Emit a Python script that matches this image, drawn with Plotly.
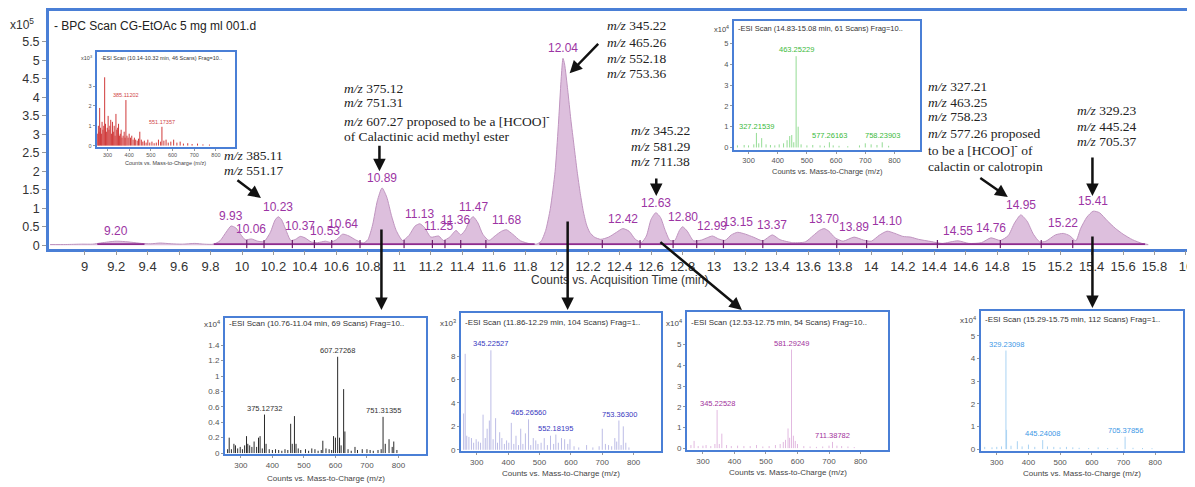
import plotly.graph_objects as go

W, H = 1195, 487
OFF = 8  # page body margin of the written html
BLUE = "#4a7fd6"
PURPLE = "#9c34a4"

# ---------------- main chromatogram (counts x10^5) ----------------
rt = [8.78, 8.88, 8.98, 9.05, 9.10, 9.15, 9.20, 9.25, 9.30, 9.36, 9.42, 9.48, 9.55, 9.62, 9.70, 9.76,
      9.82, 9.86, 9.90, 9.93, 9.96, 9.99, 10.02, 10.06, 10.10, 10.14, 10.18, 10.21, 10.23, 10.25, 10.28,
      10.31, 10.34, 10.37, 10.40, 10.44, 10.48, 10.53, 10.56, 10.60, 10.64, 10.68, 10.72, 10.77, 10.80,
      10.83, 10.86, 10.89, 10.92, 10.95, 10.98, 11.02, 11.06, 11.10, 11.13, 11.16, 11.20, 11.25, 11.28,
      11.32, 11.36, 11.39, 11.42, 11.45, 11.47, 11.50, 11.53, 11.57, 11.61, 11.65, 11.68, 11.72, 11.77,
      11.83, 11.87, 11.90, 11.93, 11.96, 11.99, 12.01, 12.03, 12.04, 12.05, 12.07, 12.09, 12.11, 12.13,
      12.15, 12.17, 12.19, 12.21, 12.24, 12.28, 12.33, 12.38, 12.42, 12.46, 12.50, 12.54, 12.57, 12.60,
      12.63, 12.66, 12.69, 12.72, 12.75, 12.78, 12.80, 12.83, 12.87, 12.92, 12.96, 12.99, 13.03, 13.07,
      13.11, 13.15, 13.20, 13.25, 13.31, 13.37, 13.42, 13.50, 13.58, 13.63, 13.67, 13.70, 13.73, 13.77,
      13.82, 13.89, 13.95, 14.00, 14.05, 14.10, 14.15, 14.20, 14.25, 14.30, 14.38, 14.45, 14.55, 14.62,
      14.70, 14.76, 14.82, 14.87, 14.91, 14.95, 14.99, 15.03, 15.07, 15.11, 15.17, 15.22, 15.26, 15.30,
      15.33, 15.37, 15.41, 15.45, 15.50, 15.55, 15.60, 15.66, 15.72, 15.76]
counts = [0.02, 0.02, 0.03, 0.03, 0.06, 0.09, 0.11, 0.10, 0.08, 0.05, 0.04, 0.06, 0.04, 0.03, 0.05, 0.03,
          0.03, 0.12, 0.36, 0.52, 0.47, 0.30, 0.15, 0.17, 0.11, 0.10, 0.35, 0.68, 0.77, 0.70, 0.40,
          0.13, 0.16, 0.24, 0.20, 0.09, 0.07, 0.11, 0.08, 0.15, 0.30, 0.25, 0.15, 0.06, 0.15,
          0.55, 1.20, 1.55, 1.30, 0.80, 0.40, 0.13, 0.26, 0.52, 0.58, 0.48, 0.22, 0.25, 0.13,
          0.22, 0.40, 0.28, 0.42, 0.70, 0.77, 0.60, 0.30, 0.13, 0.26, 0.38, 0.42, 0.30, 0.12,
          0.04, 0.03, 0.10, 0.40, 1.00, 2.00, 3.20, 4.60, 5.05, 4.90, 4.20, 3.40, 2.70, 2.00,
          1.40, 0.90, 0.55, 0.35, 0.22, 0.16, 0.22, 0.35, 0.45, 0.38, 0.16, 0.08, 0.25, 0.70,
          0.88, 0.75, 0.40, 0.13, 0.13, 0.40, 0.50, 0.38, 0.12, 0.14, 0.21, 0.25, 0.17, 0.13,
          0.28, 0.35, 0.30, 0.22, 0.12, 0.28, 0.15, 0.07, 0.09, 0.26, 0.40, 0.45, 0.38, 0.20,
          0.11, 0.22, 0.14, 0.11, 0.27, 0.38, 0.32, 0.24, 0.22, 0.16, 0.10, 0.05, 0.12, 0.05,
          0.07, 0.20, 0.13, 0.26, 0.60, 0.82, 0.65, 0.30, 0.09, 0.11, 0.28, 0.32, 0.26, 0.12,
          0.45, 0.76, 0.92, 0.88, 0.66, 0.46, 0.30, 0.15, 0.05, 0.02]

peak_labels = ["9.20", "9.93", "10.06", "10.23", "10.37", "10.53", "10.64", "10.89", "11.13", "11.25",
               "11.36", "11.47", "11.68", "12.04", "12.42", "12.63", "12.80", "12.99", "13.15", "13.37",
               "13.70", "13.89", "14.10", "14.55", "14.76", "14.95", "15.22", "15.41"]
peak_heights = [0.11, 0.52, 0.17, 0.77, 0.24, 0.11, 0.30, 1.55, 0.58, 0.25,
                0.40, 0.77, 0.42, 5.05, 0.45, 0.88, 0.50, 0.25, 0.35, 0.28,
                0.45, 0.22, 0.38, 0.12, 0.20, 0.82, 0.32, 0.92]

baseline_start = [9.08, 9.82, 11.89]
baseline_end = [9.38, 11.86, 15.74]
integration_marks = [10.03, 10.14, 10.32, 10.46, 10.57, 10.75, 11.03, 11.21, 11.29, 11.39, 11.55,
                     12.29, 12.53, 12.74, 12.89, 13.06, 13.31, 13.78, 13.97, 14.42, 14.82, 15.08, 15.28]

x_ticks = [round(9 + 0.2 * i, 1) for i in range(36)]
y_ticks = [round(0.5 * i, 1) for i in range(12)]

# ---------------- mass spectra insets ----------------
mzA = [255, 258, 261, 264, 268, 272, 275, 279, 283, 287, 291, 295, 299, 303, 307, 311, 315, 319, 323,
       327, 331, 335, 339, 343, 347, 351, 355, 359, 363, 367, 372, 377, 381, 385, 390, 395, 400, 406,
       412, 418, 424, 430, 437, 443, 449, 456, 463, 470, 478, 486, 495, 505, 515, 525, 535, 545, 551,
       560, 570, 580, 592, 605, 620, 635, 650, 670, 690, 715, 740, 770]
intA = [0.6, 1.0, 0.7, 1.9, 0.9, 0.6, 1.2, 0.8, 1.0, 3.45, 1.1, 0.7, 0.9, 1.5, 0.8, 1.0, 1.3, 0.6, 1.2,
        0.7, 1.0, 0.5, 1.6, 0.8, 0.9, 1.1, 0.5, 0.6, 0.8, 0.4, 0.5, 0.7, 0.4, 2.3, 0.5, 0.4, 0.6, 0.4,
        0.5, 0.3, 0.4, 0.3, 0.25, 0.35, 0.7, 0.3, 0.2, 0.25, 0.15, 0.3, 0.15, 0.2, 0.12, 0.15, 0.3, 0.2, 0.95,
        0.25, 0.3, 0.15, 0.2, 0.3, 0.15, 0.2, 0.1, 0.12, 0.08, 0.1, 0.06, 0.05]
labA = ["385.11202", "551.17357"]

mzB = [262, 285, 300, 318, 327, 335, 345, 360, 375, 390, 405, 420, 432, 441, 448, 455, 463, 470, 480,
       500, 520, 545, 560, 577, 590, 610, 640, 680, 700, 720, 740, 758, 780]
intB = [0.1, 0.12, 0.1, 0.15, 0.7, 0.2, 0.45, 0.15, 0.12, 0.1, 0.15, 0.2, 0.35, 0.55, 0.6, 0.25, 4.4, 1.0,
        0.15, 0.1, 0.12, 0.1, 0.08, 0.25, 0.1, 0.08, 0.06, 0.1, 0.2, 0.15, 0.12, 0.25, 0.08]
labB = ["327.21539", "463.25229", "577.26163", "758.23903"]

mzC = [258, 263, 270, 278, 283, 290, 298, 305, 312, 318, 322, 328, 335, 342, 350, 356, 361, 368, 375,
       380, 390, 400, 410, 420, 430, 440, 449, 458, 463, 470, 475, 482, 490, 505, 515, 525, 535, 545,
       555, 560, 570, 580, 588, 594, 600, 607, 613, 618, 626, 630, 640, 650, 662, 670, 685, 700, 710,
       720, 735, 745, 751, 758, 770, 780, 785, 795]
intC = [0.05, 0.2, 0.05, 0.12, 0.1, 0.06, 0.08, 0.05, 0.1, 0.22, 0.12, 0.1, 0.08, 0.15, 0.08, 0.2, 0.22,
        0.06, 0.5, 0.12, 0.05, 0.04, 0.05, 0.04, 0.03, 0.05, 0.04, 0.38, 0.12, 0.48, 0.12, 0.06, 0.04,
        0.05, 0.03, 0.06, 0.05, 0.03, 0.04, 0.16, 0.06, 0.05, 0.04, 0.22, 0.2, 1.25, 0.2, 0.1, 0.83,
        0.28, 0.05, 0.03, 0.08, 0.04, 0.05, 0.05, 0.04, 0.03, 0.04, 0.05, 0.47, 0.12, 0.18, 0.08, 0.15, 0.04]
labC = ["375.12732", "607.27268", "751.31355"]

mzD = [258, 263, 268, 275, 283, 290, 298, 305, 312, 320, 327, 333, 340, 345, 352, 360, 366, 373, 380,
       388, 395, 402, 410, 418, 425, 433, 440, 447, 455, 465, 472, 480, 488, 495, 505, 515, 525, 535,
       545, 552, 560, 570, 580, 590, 597, 610, 625, 650, 670, 690, 700, 710, 720, 730, 740, 746, 753,
       760, 767, 775, 785]
intD = [3.1, 8.2, 1.2, 1.1, 1.0, 0.6, 0.9, 0.7, 0.6, 3.0, 1.0, 1.8, 2.5, 8.5, 0.9, 2.7, 0.6, 1.5, 1.0,
        0.5, 0.8, 0.6, 2.3, 0.5, 1.2, 0.4, 1.8, 0.5, 1.4, 2.6, 0.4, 1.0, 0.8, 0.5, 0.6, 1.0, 0.4, 1.2,
        0.5, 1.3, 0.6, 1.0, 0.9, 0.5, 0.9, 0.3, 0.2, 0.4, 0.2, 0.3, 1.8, 0.5, 0.4, 0.3, 1.0, 0.7, 2.5,
        0.4, 2.0, 0.6, 0.2]
labD = ["345.22527", "465.26560", "552.18195", "753.36300"]

mzE = [262, 272, 285, 300, 310, 325, 338, 345, 352, 360, 375, 390, 410, 430, 450, 470, 490, 510, 530,
       545, 555, 562, 570, 575, 581, 587, 593, 600, 620, 640, 660, 680, 700, 711, 725, 740, 760, 780]
intE = [0.15, 0.35, 0.1, 0.12, 0.15, 0.1, 0.2, 1.84, 0.2, 0.7, 0.15, 0.1, 0.12, 0.1, 0.1, 0.15, 0.08,
        0.1, 0.15, 0.2, 0.3, 0.4, 0.95, 0.5, 4.76, 0.6, 0.35, 0.2, 0.1, 0.08, 0.06, 0.08, 0.12, 0.3,
        0.12, 0.1, 0.08, 0.05]
labE = ["345.22528", "581.29249", "711.38782"]

mzF = [262, 285, 300, 315, 329, 331, 345, 365, 380, 400, 420, 445, 460, 480, 500, 520, 540, 560, 590,
       620, 650, 680, 705, 730, 760, 790]
intF = [0.1, 0.08, 0.1, 0.12, 4.35, 0.85, 0.15, 0.35, 0.12, 0.2, 0.1, 0.4, 0.12, 0.1, 0.08, 0.1, 0.08,
        0.06, 0.05, 0.08, 0.05, 0.06, 0.55, 0.06, 0.05, 0.04]
labF = ["329.23098", "445.24008", "705.37856"]

mz_ticks = [300, 400, 500, 600, 700, 800]


def px(x):
    return (x - OFF) / W


def py(y):
    return 1 - (y - OFF) / H


fig = go.Figure()
annotations = []


def note(x, y, text, font, xanchor="left", yanchor="middle"):
    annotations.append(dict(x=px(x), y=py(y), xref="paper", yref="paper", xanchor=xanchor,
                            yanchor=yanchor, text=text, showarrow=False, font=font))


SANS = "Liberation Sans, Arial"

# ---- main chart ----
fig.add_trace(go.Scatter(x=rt, y=counts, mode="lines", fill="tozeroy", fillcolor="#ddbfdd",
                         line=dict(color="#bf94bf", width=1, shape="spline", smoothing=0.6),
                         hoverinfo="skip", xaxis="x", yaxis="y"))
bx, by = [], []
for s, e in zip(baseline_start, baseline_end):
    bx += [s, e, None]
    by += [0.03, 0.03, None]
fig.add_trace(go.Scatter(x=bx, y=by, mode="lines", line=dict(color="#8e2b8e", width=1.6),
                         hoverinfo="skip", xaxis="x", yaxis="y"))
fig.add_trace(go.Scatter(x=integration_marks, y=[0.03] * len(integration_marks), mode="markers",
                         marker=dict(symbol="line-ns", size=6, line=dict(color="#6a1f6a", width=1.2)),
                         hoverinfo="skip", xaxis="x", yaxis="y"))

for lab, h in zip(peak_labels, peak_heights):
    annotations.append(dict(x=float(lab), y=h, xref="x", yref="y", text=lab, showarrow=False,
                            xanchor="center", yanchor="bottom", yshift=1,
                            font=dict(family=SANS, size=12, color=PURPLE)))

layout_axes = dict(
    xaxis=dict(domain=[px(49), px(1193)], range=[8.772, 16.013], tickvals=x_ticks,
               ticktext=[f"{v:g}" for v in x_ticks], ticks="outside", ticklen=4, tickcolor="#999",
               showline=True, mirror=True, linecolor=BLUE, linewidth=2.5, showgrid=False,
               zeroline=False, anchor="y", tickfont=dict(family=SANS, size=13, color="#333")),
    yaxis=dict(domain=[py(250), py(10)], range=[-0.088, 6.33], tickvals=y_ticks,
               ticktext=[f"{v:g}" for v in y_ticks], ticks="outside", ticklen=4, tickcolor="#999",
               showline=True, mirror=True, linecolor=BLUE, linewidth=2.5, showgrid=False,
               zeroline=False, anchor="x", tickfont=dict(family=SANS, size=12.5, color="#333")),
)

note(52, 25, "- BPC Scan CG-EtOAc 5 mg ml 001.d", dict(family=SANS, size=12, color="#222"))
note(8, 23, "x10<sup>5</sup>", dict(family=SANS, size=12, color="#333"))
note(622, 282, "Counts vs. Acquisition Time (min)", dict(family=SANS, size=12, color="#333"),
     xanchor="center")

# ---- insets ----
insets = [
    dict(box=(97, 51, 236, 147), yr=[-0.05, 4.75], yt=[0, 1, 2, 3], mz=mzA, it=intA, labels=labA,
         bc="#d03a3a", lc="#d04545", title="-ESI Scan (10.14-10.32 min, 46 Scans) Frag=10..", exp="3",
         fs=5.5, lfs=5.5, ty=58, xty=164),
    dict(box=(737, 20, 924, 150), yr=[-0.1, 6.1], yt=[0, 1, 2, 3, 4, 5], mz=mzB, it=intB, labels=labB,
         bc="#94dc94", lc="#3cba3c", title="-ESI Scan (14.83-15.08 min, 61 Scans) Frag=10..", exp="4",
         fs=7.5, lfs=7.5, ty=28, xty=172),
    dict(box=(226, 320, 428, 458), yr=[-0.017, 1.756], yt=[0, 0.2, 0.4, 0.6, 0.8, 1, 1.2, 1.4], mz=mzC,
         it=intC, labels=labC, bc="#2a2a2a", lc="#333333",
         title="-ESI Scan (10.76-11.04 min, 69 Scans) Frag=10..", exp="4", fs=8, lfs=7.5, ty=326, xty=482),
    dict(box=(463, 315, 664, 455), yr=[-0.14, 11.7], yt=[0, 2, 4, 6, 8], mz=mzD, it=intD, labels=labD,
         bc="#bcbce6", lc="#3838c0", title="-ESI Scan (11.86-12.29 min, 104 Scans) Frag=1..", exp="3",
         fs=8, lfs=7.5, ty=325, xty=477),
    dict(box=(690, 314, 892, 454), yr=[-0.11, 6.58], yt=[0, 1, 2, 3, 4, 5], mz=mzE, it=intE, labels=labE,
         bc="#e2b9e0", lc="#a2329c", title="-ESI Scan (12.53-12.75 min, 54 Scans) Frag=10..", exp="4",
         fs=8, lfs=7.5, ty=325, xty=476),
    dict(box=(985, 313, 1188, 455), yr=[-0.1, 6.1], yt=[0, 1, 2, 3, 4, 5], mz=mzF, it=intF, labels=labF,
         bc="#a9d3f3", lc="#3c98e6", title="-ESI Scan (15.29-15.75 min, 112 Scans) Frag=1..", exp="4",
         fs=8, lfs=7.5, ty=322, xty=477),
]

for i, ins in enumerate(insets, start=2):
    x0, y0, x1, y1 = ins["box"]
    xa, ya = f"x{i}", f"y{i}"
    tf = dict(family=SANS, size=ins["fs"], color="#555")
    layout_axes[f"xaxis{i}"] = dict(domain=[px(x0), px(x1)], range=[250, 888], tickvals=mz_ticks,
                                    ticks="outside", ticklen=2, tickcolor="#999", showline=True,
                                    mirror=True, linecolor=BLUE, linewidth=2, showgrid=False,
                                    zeroline=False, anchor=ya, tickfont=tf)
    layout_axes[f"yaxis{i}"] = dict(domain=[py(y1), py(y0)], range=ins["yr"], tickvals=ins["yt"],
                                    ticktext=[f"{v:g}" for v in ins["yt"]], ticks="outside", ticklen=2,
                                    tickcolor="#999", showline=True, mirror=True, linecolor=BLUE,
                                    linewidth=2, showgrid=False, zeroline=False, anchor=xa, tickfont=tf)
    sx, sy = [], []
    for m, v in zip(ins["mz"], ins["it"]):
        sx += [m, m, None]
        sy += [0, v, None]
    fig.add_trace(go.Scatter(x=sx, y=sy, mode="lines", line=dict(color=ins["bc"], width=1),
                             hoverinfo="skip", xaxis=xa, yaxis=ya))
    for lab in ins["labels"]:
        m = float(lab)
        j = min(range(len(ins["mz"])), key=lambda k: abs(ins["mz"][k] - m))
        annotations.append(dict(x=m, y=ins["it"][j], xref=xa, yref=ya, text=lab, showarrow=False,
                                xanchor="center", yanchor="bottom", yshift=0,
                                font=dict(family=SANS, size=ins["lfs"], color=ins["lc"])))
    note(x0 + 2, ins["ty"], ins["title"], dict(family=SANS, size=ins["fs"], color="#333"))
    note(x0 - 3, ins["ty"], "x10<sup>" + ins["exp"] + "</sup>",
         dict(family=SANS, size=ins["fs"], color="#444"), xanchor="right")
    note((x0 + x1) / 2, ins["xty"], "Counts vs. Mass-to-Charge (m/z)",
         dict(family=SANS, size=ins["fs"], color="#444"), xanchor="center")

# ---- explanatory text ----
SERIF = dict(family="Liberation Serif, Times New Roman", size=13.5, color="#222")
texts = [
    (223, 156, "<i>m/z</i> 385.11"), (223, 171, "<i>m/z</i> 551.17"),
    (343, 88, "<i>m/z</i> 375.12"), (343, 102, "<i>m/z</i> 751.31"),
    (343, 121, "<i>m/z</i> 607.27 proposed to be a [HCOO]<sup>-</sup>"),
    (343, 137, "of Calactinic acid methyl ester"),
    (608, 25, "<i>m/z</i> 345.22"), (608, 42, "<i>m/z</i> 465.26"),
    (608, 58, "<i>m/z</i> 552.18"), (608, 73, "<i>m/z</i> 753.36"),
    (632, 131, "<i>m/z</i> 345.22"), (632, 147, "<i>m/z</i> 581.29"), (632, 162, "<i>m/z</i> 711.38"),
    (930, 86, "<i>m/z</i> 327.21"), (930, 102, "<i>m/z</i> 463.25"), (930, 117, "<i>m/z</i> 758.23"),
    (930, 134, "<i>m/z</i> 577.26 proposed"), (930, 150, "to be a [HCOO]<sup>-</sup> of"),
    (930, 167, "calactin or calotropin"),
    (1079, 111, "<i>m/z</i> 329.23"), (1079, 127, "<i>m/z</i> 445.24"), (1079, 142, "<i>m/z</i> 705.37"),
]
for x, y, t in texts:
    note(x, y, t, SERIF)

# ---- arrows (tail -> head, pixels) ----
arrows = [((237, 180), (262, 199)), ((381, 145), (381, 172)), ((383, 230), (383, 312)),
          ((602, 42), (572, 73)), ((570, 222), (570, 312)), ((659, 178), (659, 197)),
          ((662, 243), (745, 312)), ((983, 178), (1012, 198)), ((1097, 157), (1097, 197)),
          ((1097, 237), (1097, 310))]
for (tx, ty), (hx, hy) in arrows:
    annotations.append(dict(x=px(hx), y=py(hy), xref="paper", yref="paper", ax=tx - hx, ay=ty - hy,
                            text="", showarrow=True, arrowhead=2, arrowsize=1, arrowwidth=2.5,
                            arrowcolor="#111", standoff=0))

fig.update_layout(width=W, height=H, margin=dict(l=0, r=0, t=0, b=0), paper_bgcolor="white",
                  plot_bgcolor="white", showlegend=False, annotations=annotations, **layout_axes)

fig.write_html("out.html")
